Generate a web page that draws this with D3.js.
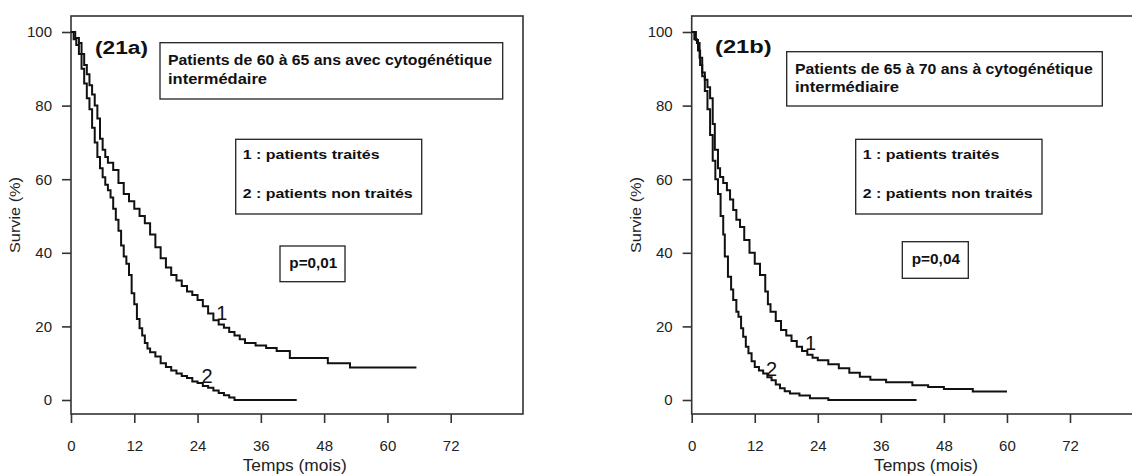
<!DOCTYPE html>
<html>
<head>
<meta charset="utf-8">
<script src="https://cdn.jsdelivr.net/npm/d3@7"></script>
<style>
  body { margin: 0; background: #fff; }
  svg { display: block; }
</style>
</head>
<body>
<div id="chart"></div>
<script>
// axis ticks
const xTicks = [0, 12, 24, 36, 48, 60, 72];
const yTicks = [0, 20, 40, 60, 80, 100];

// (21a) curve 1 : patients traités (months, % survival)
const timeA1 = [0, 0.8, 1.5, 2, 2.5, 3, 3.5, 4, 4.5, 5, 5.5, 6, 6.5, 7, 8, 9, 10, 11, 12, 13, 14, 15, 16, 17, 18, 19, 20, 21, 22, 23, 24, 25, 26, 27, 28, 29, 30, 31, 32, 33, 35, 37, 39, 41.5, 48.7, 52.9, 65.5];
const survA1 = [100, 98.4, 97, 94, 91, 88.5, 85.5, 83, 80, 76.5, 71, 68, 66, 64.5, 62.5, 59, 56, 54, 52, 50, 48, 45, 41.5, 38.5, 36, 34, 32.5, 31, 29.5, 28.5, 27.2, 25.5, 23.5, 21.7, 20.5, 19.6, 18.5, 17.5, 16.5, 15.5, 14.8, 14.1, 13.3, 11.4, 10, 8.8, 8.8];
// (21a) curve 2 : patients non traités
const timeA2 = [0, 0.5, 1, 1.5, 2, 2.5, 3, 3.5, 4, 4.5, 5, 5.5, 6, 6.5, 7, 7.5, 8, 8.5, 9, 9.5, 10, 10.5, 11, 11.5, 12, 12.5, 13, 13.5, 14, 14.5, 15, 16, 17, 18, 19, 20, 21, 22, 23, 24, 25, 26, 27, 28, 29, 30, 31, 42.8];
const survA2 = [100, 98, 96.5, 94, 90, 86, 82, 79, 74, 70, 66, 63, 60.5, 58.5, 57, 55, 52, 49, 46, 42, 39, 37, 34, 29, 26, 22, 19.5, 17.5, 15.5, 14, 13, 11.8, 10, 9, 8, 7.2, 6.5, 6, 5, 4.6, 3.8, 3.3, 2.6, 1.9, 1.3, 0.7, 0, 0];

// (21b) curve 1 : patients traités
const timeB1 = [0, 0.8, 1.2, 1.6, 2, 2.5, 3, 3.5, 4, 4.4, 5, 5.4, 6, 6.7, 7.3, 7.9, 8.5, 9.2, 10, 11, 12, 13, 14, 14.5, 15, 16, 17, 18, 19, 20, 21, 22, 23, 24, 26, 28, 30, 32, 34, 37, 42, 45, 48, 53.5, 60];
const survB1 = [100, 97.8, 95, 91, 89, 87, 85, 82, 75, 68, 63, 60.6, 59, 57, 54.5, 51.6, 49, 47, 43.5, 40, 37, 34, 29.5, 26, 24, 21.5, 19, 17.5, 16, 14.5, 13.3, 12.3, 11.5, 10.8, 9.7, 8.6, 7.4, 6.3, 5.5, 4.8, 4, 3.5, 3, 2.3, 2.3];
// (21b) curve 2 : patients non traités
const timeB2 = [0, 0.5, 1, 1.5, 2, 2.5, 3, 3.5, 4, 4.5, 5, 5.5, 6, 6.3, 6.9, 7.5, 7.9, 8.5, 8.9, 9.4, 9.8, 10.3, 10.8, 11.4, 12, 12.8, 13.6, 14.4, 15.2, 16, 16.8, 17.7, 18.7, 20.5, 22.5, 26, 42.8];
const survB2 = [100, 98, 97, 93, 88, 84, 79, 72, 65, 60, 56, 50, 45, 39, 33.5, 30, 27.2, 24, 22.6, 19.5, 17.2, 14.5, 12.7, 10.5, 9, 8, 7.2, 6.2, 5.4, 4.2, 3.2, 2.4, 1.8, 1.2, 0.5, 0, 0];

// curve labels: [label, month, %]
const labelsA = [["1", 28.6, 21.8], ["2", 25.8, 4.6]];
const labelsB = [["1", 22.6, 13.6], ["2", 15.2, 6.6]];

const W = 1132, H = 475;
const FONT = "'Liberation Sans', Arial, sans-serif";

const svg = d3.select("#chart")
    .append("svg")
    .attr("width", W)
    .attr("height", H);

// y scale is the same for both panels
const y = d3.scaleLinear().domain([0, 100]).range([400, 32]);

const panels = [
    {
        left: 71, x72: 450.7, right: 523,
        series: [[timeA1, survA1], [timeA2, survA2]],
        curveLabels: labelsA,
        tag: { text: "(21a)", x: 95, y: 53.5, w: 53 },
        titleBox: { x: 160, y: 42.7, w: 342.7, h: 56.3 },
        titleLines: [
            { text: "Patients de 60 à 65 ans avec cytogénétique", x: 168, y: 65, w: 324 },
            { text: "intermédaire", x: 168, y: 84, w: 99 }
        ],
        legendBox: { x: 235.7, y: 139.3, w: 186, h: 74.7 },
        legendLines: [
            { text: "1 : patients traités", x: 242.7, y: 159.3, w: 137 },
            { text: "2 : patients non traités", x: 242.7, y: 197.7, w: 170 }
        ],
        pBox: { x: 280, y: 246, w: 65, h: 35.7 },
        pText: { text: "p=0,01", x: 289.3, y: 267.7, w: 48 },
        xTitle: 294.7
    },
    {
        left: 691.7, x72: 1070, right: 1145,
        series: [[timeB1, survB1], [timeB2, survB2]],
        curveLabels: labelsB,
        tag: { text: "(21b)", x: 715, y: 52.5, w: 56.7 },
        titleBox: { x: 786.7, y: 51.7, w: 315.6, h: 54.3 },
        titleLines: [
            { text: "Patients de 65 à 70 ans à cytogénétique", x: 795, y: 73.5, w: 297.7 },
            { text: "intermédiaire", x: 795, y: 92, w: 104 }
        ],
        legendBox: { x: 855.7, y: 139.3, w: 186.3, h: 74.7 },
        legendLines: [
            { text: "1 : patients traités", x: 862.7, y: 159.3, w: 136.7 },
            { text: "2 : patients non traités", x: 862.7, y: 197.7, w: 170 }
        ],
        pBox: { x: 902.3, y: 241.7, w: 66, h: 36.6 },
        pText: { text: "p=0,04", x: 911.7, y: 264, w: 48.3 },
        xTitle: 926
    }
];

panels.forEach(drawPanel);

function addText(g, t, size, weight) {
    return g.append("text")
        .attr("x", t.x)
        .attr("y", t.y)
        .attr("font-family", FONT)
        .attr("font-size", size)
        .attr("font-weight", weight)
        .attr("fill", "#111")
        .attr("textLength", t.w)
        .attr("lengthAdjust", "spacingAndGlyphs")
        .text(t.text);
}

function addBox(g, b) {
    g.append("rect")
        .attr("x", b.x)
        .attr("y", b.y)
        .attr("width", b.w)
        .attr("height", b.h)
        .attr("fill", "#fff")
        .attr("stroke", "#222")
        .attr("stroke-width", 1.3);
}

function drawPanel(p) {
    const g = svg.append("g");

    const x = d3.scaleLinear().domain([0, 72]).range([p.left, p.x72]);

    // frame
    g.append("rect")
        .attr("x", p.left)
        .attr("y", 16)
        .attr("width", p.right - p.left)
        .attr("height", 398)
        .attr("fill", "none")
        .attr("stroke", "#333")
        .attr("stroke-width", 1.6);

    // y axis
    const yAxis = g.append("g")
        .attr("transform", `translate(${p.left},0)`)
        .call(d3.axisLeft(y).tickValues(yTicks).tickSize(9).tickPadding(10));
    yAxis.select(".domain").remove();

    // x axis
    const xAxis = g.append("g")
        .attr("transform", "translate(0,414)")
        .call(d3.axisBottom(x).tickValues(xTicks).tickSize(9).tickPadding(17));
    xAxis.select(".domain").remove();

    [yAxis, xAxis].forEach(a => {
        a.selectAll("line").attr("stroke", "#333").attr("stroke-width", 1.6);
        a.selectAll("text")
            .attr("font-family", FONT)
            .attr("font-size", 15)
            .attr("fill", "#222");
    });

    // axis titles
    g.append("text")
        .attr("x", p.xTitle)
        .attr("y", 471)
        .attr("text-anchor", "middle")
        .attr("font-family", FONT)
        .attr("font-size", 16)
        .attr("fill", "#222")
        .attr("textLength", 104)
        .attr("lengthAdjust", "spacingAndGlyphs")
        .text("Temps (mois)");

    g.append("text")
        .attr("transform", `translate(${p.left - 51},215) rotate(-90)`)
        .attr("text-anchor", "middle")
        .attr("font-family", FONT)
        .attr("font-size", 15)
        .attr("fill", "#222")
        .attr("textLength", 76)
        .attr("lengthAdjust", "spacingAndGlyphs")
        .text("Survie (%)");

    // survival curves
    const line = d3.line()
        .x(d => x(d[0]))
        .y(d => y(d[1]))
        .curve(d3.curveStepAfter);

    p.series.forEach(([t, s]) => {
        g.append("path")
            .datum(d3.zip(t, s))
            .attr("fill", "none")
            .attr("stroke", "#111")
            .attr("stroke-width", 2)
            .attr("d", line);
    });

    g.selectAll(".curve-label")
        .data(p.curveLabels)
        .enter()
        .append("text")
        .attr("class", "curve-label")
        .attr("x", d => x(d[1]))
        .attr("y", d => y(d[2]))
        .attr("text-anchor", "middle")
        .attr("font-family", FONT)
        .attr("font-size", 20)
        .attr("fill", "#111")
        .text(d => d[0]);

    // annotations
    addText(g, p.tag, 18, "bold");

    addBox(g, p.titleBox);
    p.titleLines.forEach(t => addText(g, t, 14, "bold"));

    addBox(g, p.legendBox);
    p.legendLines.forEach(t => addText(g, t, 13.5, "bold"));

    addBox(g, p.pBox);
    addText(g, p.pText, 14, "bold");
}
</script>
</body>
</html>
